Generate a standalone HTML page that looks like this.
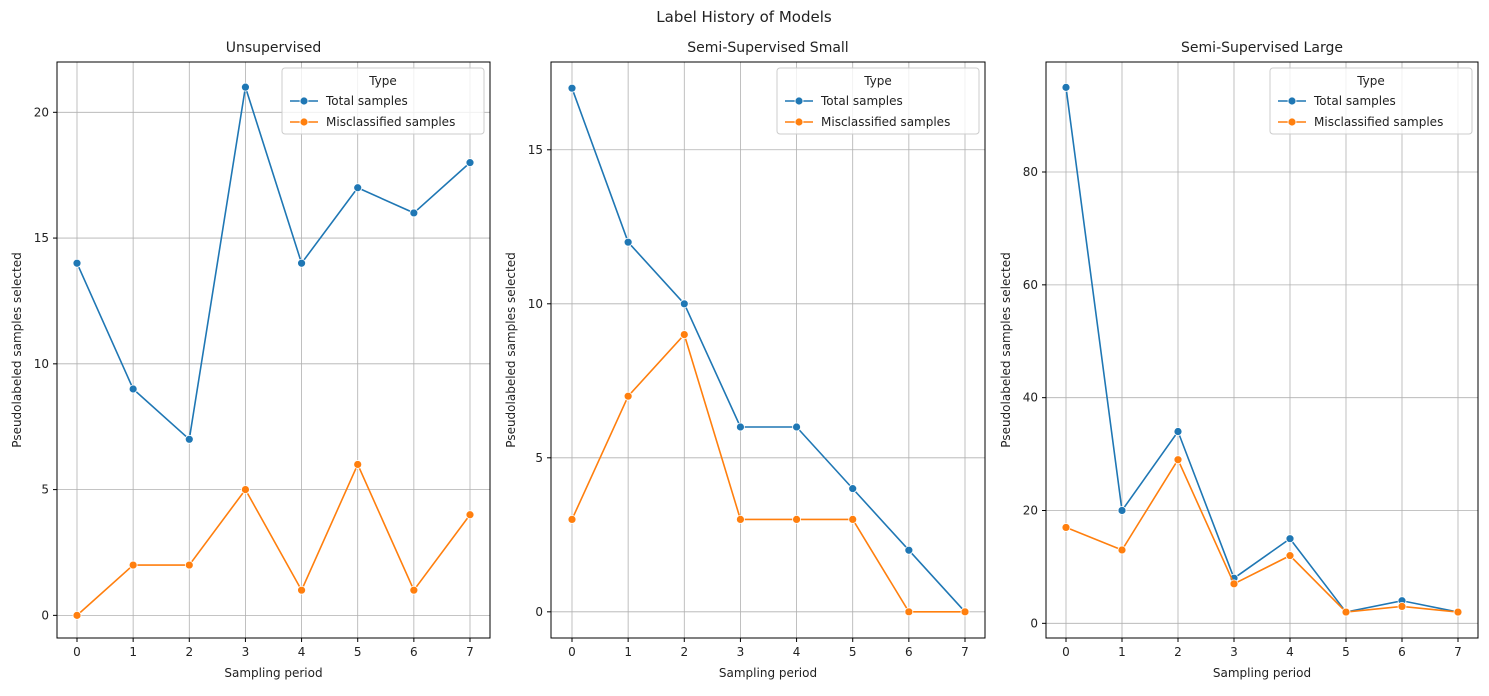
<!DOCTYPE html>
<html><head><meta charset="utf-8"><style>
body{margin:0;background:#fff;font-family:"Liberation Sans","DejaVu Sans",sans-serif}
svg text{font-family:"DejaVu Sans","Liberation Sans",sans-serif;fill:#222}
</style></head><body>
<svg id="c" width="1489" height="691" xmlns="http://www.w3.org/2000/svg">
<text x="744" y="22" font-size="15" text-anchor="middle">Label History of Models</text>
</svg>
<script>
const periods=[0,1,2,3,4,5,6,7];
const unsupTotal=[14,9,7,21,14,17,16,18];
const unsupMis=[0,2,2,5,1,6,1,4];
const smallTotal=[17,12,10,6,6,4,2,0];
const smallMis=[3,7,9,3,3,3,0,0];
const largeTotal=[95,20,34,8,15,2,4,2];
const largeMis=[17,13,29,7,12,2,3,2];
const unsupTicks=[0,5,10,15,20];
const smallTicks=[0,5,10,15];
const largeTicks=[0,20,40,60,80];
const titles=["Unsupervised","Semi-Supervised Small","Semi-Supervised Large"];
const panels=[
 {l:57,r:490,x0:77,x7:470,ymin:-0.9,ymax:22,t:unsupTicks,a:unsupTotal,b:unsupMis,name:'unsupervised'},
 {l:551,r:985,x0:572,x7:965,ymin:-0.85,ymax:17.85,t:smallTicks,a:smallTotal,b:smallMis,name:'semi-small'},
 {l:1046,r:1478,x0:1066,x7:1458,ymin:-2.6,ymax:99.5,t:largeTicks,a:largeTotal,b:largeMis,name:'semi-large'}];
const TOP=62,BOT=638;
const svg=document.getElementById('c');
const NS='http://www.w3.org/2000/svg';
function mk(tag,at,parent){const e=document.createElementNS(NS,tag);for(const k in at)e.setAttribute(k,at[k]);(parent||svg).appendChild(e);return e;}
panels.forEach((p,i)=>{
 const g=mk('g',{});
 
 
 const X=v=>p.x0+(p.x7-p.x0)*v/7;
 const Y=v=>BOT-(v-p.ymin)/(p.ymax-p.ymin)*(BOT-TOP);
 periods.forEach(v=>{
  const gl=mk('line',{x1:X(v),x2:X(v),y1:TOP,y2:BOT,stroke:'#b0b0b0','stroke-width':0.8},g);
  
  
  mk('line',{x1:X(v),x2:X(v),y1:BOT,y2:BOT+4,stroke:'#000'},g);
  const t=mk('text',{x:X(v),y:BOT+18,'font-size':12,'text-anchor':'middle'},g);t.textContent=v;
  
  
 });
 p.t.forEach(v=>{
  const gl=mk('line',{x1:p.l,x2:p.r,y1:Y(v),y2:Y(v),stroke:'#b0b0b0','stroke-width':0.8},g);
  
  
  mk('line',{x1:p.l-4,x2:p.l,y1:Y(v),y2:Y(v),stroke:'#000'},g);
  const t=mk('text',{x:p.l-8,y:Y(v)+4,'font-size':12,'text-anchor':'end'},g);t.textContent=v;
  
  
 });
 [[p.a,'#1f77b4','total-samples'],[p.b,'#ff7f0e','misclassified-samples']].forEach(([d,c,n])=>{
  const pl=mk('polyline',{points:d.map((v,j)=>X(periods[j])+','+Y(v)).join(' '),fill:'none',stroke:c,'stroke-width':1.6},g);
  
  
  d.forEach((v,j)=>{
   const m=mk('circle',{cx:X(periods[j]),cy:Y(v),r:4,fill:c,stroke:'#fff','stroke-width':0.8},g);
   
   
  });
 });
 const fr=mk('rect',{x:p.l,y:TOP,width:p.r-p.l,height:BOT-TOP,fill:'none',stroke:'#000','stroke-width':1},g);
 
 
 const tt=mk('text',{x:(p.l+p.r)/2,y:52,'font-size':14,'text-anchor':'middle'},g);tt.textContent=titles[i];
 
 
 const xl=mk('text',{x:(p.l+p.r)/2,y:677,'font-size':12,'text-anchor':'middle'},g);xl.textContent='Sampling period';
 
 
 const yl=mk('text',{x:0,y:0,'font-size':12,'text-anchor':'middle',transform:`translate(${p.l-36},${(TOP+BOT)/2}) rotate(-90)`},g);yl.textContent='Pseudolabeled samples selected';
 
 
 const lg=mk('g',{},g);
 
 
 const lx=p.r-208,ly=68;
 mk('rect',{x:lx,y:ly,width:202,height:66,fill:'#fff','fill-opacity':0.8,stroke:'#ccc',rx:3},lg);
 const lt=mk('text',{x:lx+101,y:ly+17,'font-size':12,'text-anchor':'middle'},lg);lt.textContent='Type';
 [['Total samples','#1f77b4'],['Misclassified samples','#ff7f0e']].forEach(([s,c],k)=>{
  const yy=ly+33+k*21;
  mk('line',{x1:lx+8,x2:lx+36,y1:yy,y2:yy,stroke:c,'stroke-width':1.6},lg);
  mk('circle',{cx:lx+22,cy:yy,r:4,fill:c,stroke:'#fff','stroke-width':0.8},lg);
  const e=mk('text',{x:lx+44,y:yy+4,'font-size':12},lg);e.textContent=s;
  
  
 });
});
</script>
</body></html>
